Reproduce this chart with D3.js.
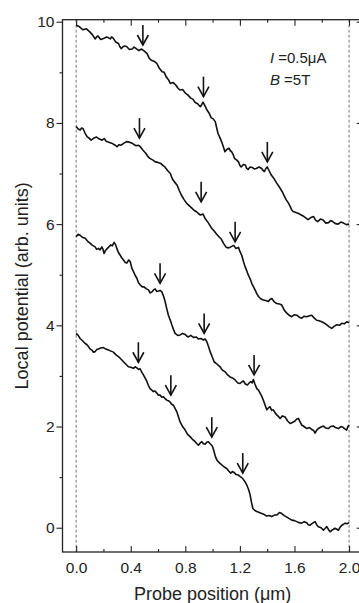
<!DOCTYPE html>
<html>
<head>
<meta charset="utf-8">
<script src="https://cdn.jsdelivr.net/npm/d3@7"></script>
<style>
  body { margin: 0; background: #fff; }
  svg { display: block; font-family: "Liberation Sans", Arial, sans-serif; }
</style>
</head>
<body>
<div id="chart"></div>
<script>
// potential traces, [position (um), potential]
const trace1 = [
  [0.00, 9.93], [0.025, 9.90], [0.05, 9.84], [0.075, 9.86], [0.10, 9.80], [0.12, 9.74], [0.14, 9.66], [0.15, 9.70],
  [0.16, 9.72], [0.18, 9.65], [0.20, 9.67], [0.225, 9.70], [0.25, 9.66], [0.26, 9.70], [0.27, 9.68], [0.29, 9.60],
  [0.31, 9.57], [0.32, 9.51], [0.33, 9.47], [0.35, 9.52], [0.37, 9.51], [0.39, 9.45], [0.41, 9.46], [0.425, 9.50],
  [0.44, 9.47], [0.46, 9.43], [0.48, 9.46], [0.50, 9.42], [0.52, 9.37], [0.535, 9.28], [0.55, 9.24], [0.57, 9.22],
  [0.59, 9.18], [0.61, 9.08], [0.63, 9.01], [0.645, 9.00], [0.66, 8.91], [0.675, 8.86], [0.69, 8.78], [0.71, 8.80],
  [0.73, 8.75], [0.745, 8.69], [0.76, 8.65], [0.78, 8.66], [0.80, 8.59], [0.82, 8.55], [0.84, 8.49], [0.855, 8.47],
  [0.87, 8.41], [0.89, 8.38], [0.91, 8.32], [0.92, 8.36], [0.93, 8.41], [0.945, 8.33], [0.96, 8.25], [0.975, 8.19],
  [0.99, 8.10], [1.005, 8.08], [1.02, 8.02], [1.03, 7.90], [1.04, 7.79], [1.055, 7.70], [1.07, 7.60], [1.08, 7.52],
  [1.09, 7.43], [1.105, 7.48], [1.12, 7.50], [1.13, 7.45], [1.14, 7.43], [1.15, 7.38], [1.16, 7.30], [1.175, 7.27],
  [1.19, 7.23], [1.20, 7.16], [1.21, 7.13], [1.225, 7.18], [1.24, 7.17], [1.25, 7.10], [1.26, 7.08], [1.275, 7.13],
  [1.29, 7.12], [1.305, 7.09], [1.32, 7.10], [1.34, 7.13], [1.36, 7.10], [1.37, 7.06], [1.38, 7.04], [1.39, 7.10],
  [1.40, 7.13], [1.415, 7.05], [1.43, 6.97], [1.45, 6.90], [1.47, 6.81], [1.49, 6.73], [1.51, 6.64], [1.525, 6.56],
  [1.54, 6.48], [1.555, 6.42], [1.57, 6.34], [1.58, 6.28], [1.59, 6.25], [1.61, 6.23], [1.63, 6.21], [1.65, 6.18],
  [1.67, 6.15], [1.685, 6.12], [1.70, 6.09], [1.72, 6.13], [1.74, 6.15], [1.755, 6.08], [1.77, 6.05], [1.79, 6.10],
  [1.81, 6.08], [1.83, 6.02], [1.85, 6.03], [1.865, 6.07], [1.88, 6.05], [1.90, 6.01], [1.92, 6.00], [1.94, 6.04],
  [1.96, 6.02], [1.98, 5.99], [2.00, 6.00]
];
const trace2 = [
  [0.00, 7.93], [0.015, 7.88], [0.03, 7.86], [0.04, 7.90], [0.05, 7.89], [0.065, 7.80], [0.08, 7.73], [0.095, 7.70],
  [0.11, 7.66], [0.13, 7.70], [0.15, 7.72], [0.17, 7.68], [0.19, 7.66], [0.205, 7.69], [0.22, 7.64], [0.24, 7.62],
  [0.26, 7.60], [0.28, 7.57], [0.30, 7.53], [0.315, 7.57], [0.33, 7.56], [0.35, 7.60], [0.37, 7.63], [0.39, 7.62],
  [0.41, 7.60], [0.425, 7.57], [0.44, 7.55], [0.455, 7.56], [0.47, 7.53], [0.49, 7.46], [0.51, 7.40], [0.525, 7.34],
  [0.54, 7.30], [0.56, 7.27], [0.58, 7.23], [0.60, 7.22], [0.62, 7.20], [0.635, 7.16], [0.65, 7.13], [0.67, 7.06],
  [0.69, 7.00], [0.70, 6.93], [0.71, 6.87], [0.725, 6.82], [0.74, 6.77], [0.755, 6.67], [0.77, 6.58], [0.79, 6.49],
  [0.81, 6.41], [0.83, 6.36], [0.85, 6.31], [0.865, 6.27], [0.88, 6.25], [0.895, 6.21], [0.91, 6.18], [0.93, 6.20],
  [0.945, 6.11], [0.97, 6.02], [0.99, 5.93], [1.01, 5.87], [1.03, 5.80], [1.05, 5.74], [1.065, 5.70], [1.08, 5.62],
  [1.10, 5.54], [1.12, 5.53], [1.14, 5.56], [1.155, 5.58], [1.17, 5.52], [1.19, 5.54], [1.20, 5.46], [1.214, 5.38],
  [1.226, 5.26], [1.238, 5.16], [1.25, 5.08], [1.262, 4.99], [1.275, 4.92], [1.287, 4.83], [1.30, 4.76], [1.311, 4.70],
  [1.325, 4.62], [1.336, 4.57], [1.355, 4.52], [1.372, 4.50], [1.39, 4.49], [1.409, 4.47], [1.42, 4.51], [1.434, 4.53],
  [1.45, 4.47], [1.47, 4.43], [1.49, 4.42], [1.507, 4.40], [1.525, 4.30], [1.544, 4.24], [1.56, 4.20], [1.58, 4.17],
  [1.60, 4.21], [1.617, 4.20], [1.635, 4.16], [1.653, 4.14], [1.67, 4.18], [1.69, 4.17], [1.71, 4.19], [1.727, 4.20],
  [1.745, 4.14], [1.763, 4.10], [1.78, 4.09], [1.80, 4.07], [1.82, 4.04], [1.837, 4.01], [1.855, 3.97], [1.873, 3.94],
  [1.89, 3.98], [1.91, 4.01], [1.93, 4.00], [1.946, 4.04], [1.965, 4.03], [1.983, 4.07], [2.00, 4.05]
];
const trace3 = [
  [0.00, 5.75], [0.015, 5.80], [0.029, 5.78], [0.045, 5.74], [0.066, 5.72], [0.085, 5.66], [0.103, 5.62], [0.12, 5.58],
  [0.139, 5.55], [0.15, 5.50], [0.163, 5.52], [0.175, 5.49], [0.188, 5.55], [0.197, 5.50], [0.205, 5.42], [0.215, 5.48],
  [0.229, 5.52], [0.24, 5.55], [0.254, 5.59], [0.265, 5.57], [0.278, 5.64], [0.288, 5.60], [0.298, 5.52], [0.31, 5.44],
  [0.322, 5.39], [0.335, 5.33], [0.347, 5.29], [0.36, 5.24], [0.371, 5.23], [0.385, 5.29], [0.396, 5.26], [0.408, 5.13],
  [0.420, 5.06], [0.432, 4.99], [0.445, 4.93], [0.457, 4.84], [0.469, 4.80], [0.485, 4.76], [0.498, 4.76], [0.515, 4.72],
  [0.530, 4.70], [0.542, 4.64], [0.555, 4.66], [0.567, 4.70], [0.579, 4.72], [0.59, 4.67], [0.603, 4.68], [0.615, 4.69],
  [0.628, 4.66], [0.64, 4.58], [0.652, 4.47], [0.664, 4.33], [0.676, 4.20], [0.69, 4.10], [0.701, 4.01], [0.713, 3.92],
  [0.725, 3.84], [0.745, 3.80], [0.762, 3.81], [0.78, 3.84], [0.799, 3.82], [0.81, 3.79], [0.823, 3.77], [0.84, 3.80],
  [0.859, 3.76], [0.878, 3.77], [0.896, 3.73], [0.915, 3.74], [0.933, 3.71], [0.945, 3.73], [0.957, 3.68], [0.97, 3.58],
  [0.982, 3.48], [0.997, 3.38], [1.011, 3.28], [1.03, 3.24], [1.055, 3.18], [1.07, 3.12], [1.092, 3.08], [1.11, 3.02],
  [1.128, 2.98], [1.145, 2.96], [1.165, 2.92], [1.185, 2.86], [1.201, 2.85], [1.213, 2.88], [1.226, 2.90], [1.24, 2.84],
  [1.255, 2.82], [1.268, 2.86], [1.280, 2.89], [1.29, 2.86], [1.299, 2.93], [1.31, 2.84], [1.324, 2.75], [1.336, 2.72],
  [1.348, 2.66], [1.36, 2.60], [1.372, 2.52], [1.385, 2.42], [1.397, 2.33], [1.41, 2.37], [1.421, 2.39], [1.433, 2.32],
  [1.445, 2.33], [1.458, 2.27], [1.470, 2.23], [1.482, 2.20], [1.495, 2.16], [1.512, 2.21], [1.531, 2.19], [1.55, 2.11],
  [1.568, 2.06], [1.585, 2.08], [1.604, 2.11], [1.617, 2.15], [1.629, 2.16], [1.641, 2.09], [1.653, 2.03], [1.67, 2.00],
  [1.690, 1.96], [1.71, 1.98], [1.727, 1.94], [1.74, 1.92], [1.751, 1.87], [1.763, 1.93], [1.775, 1.96], [1.795, 1.99],
  [1.812, 2.01], [1.83, 1.97], [1.848, 1.96], [1.865, 2.00], [1.885, 2.01], [1.90, 1.98], [1.922, 1.96], [1.94, 2.00],
  [1.958, 1.98], [1.972, 1.95], [1.983, 1.93], [1.99, 1.99], [2.00, 2.03]
];
const trace4 = [
  [0.00, 3.84], [0.015, 3.80], [0.029, 3.74], [0.045, 3.70], [0.066, 3.64], [0.078, 3.62], [0.090, 3.58], [0.10, 3.54],
  [0.115, 3.51], [0.127, 3.47], [0.139, 3.48], [0.15, 3.52], [0.163, 3.53], [0.18, 3.55], [0.200, 3.56], [0.218, 3.53],
  [0.237, 3.51], [0.255, 3.49], [0.273, 3.47], [0.29, 3.42], [0.310, 3.38], [0.33, 3.33], [0.347, 3.28], [0.365, 3.23],
  [0.383, 3.18], [0.40, 3.17], [0.420, 3.15], [0.432, 3.18], [0.445, 3.16], [0.457, 3.13], [0.469, 3.14], [0.48, 3.08],
  [0.493, 3.02], [0.505, 2.96], [0.518, 2.89], [0.53, 2.81], [0.542, 2.75], [0.555, 2.72], [0.566, 2.69], [0.578, 2.70],
  [0.591, 2.66], [0.603, 2.62], [0.615, 2.62], [0.628, 2.58], [0.640, 2.59], [0.652, 2.55], [0.664, 2.52], [0.676, 2.51],
  [0.689, 2.48], [0.70, 2.44], [0.713, 2.42], [0.725, 2.36], [0.738, 2.29], [0.75, 2.19], [0.762, 2.09], [0.78, 2.00],
  [0.799, 1.93], [0.815, 1.85], [0.835, 1.80], [0.855, 1.74], [0.872, 1.70], [0.885, 1.66], [0.896, 1.63], [0.908, 1.67],
  [0.921, 1.70], [0.933, 1.66], [0.945, 1.65], [0.957, 1.69], [0.969, 1.70], [0.982, 1.66], [0.994, 1.63], [1.003, 1.58],
  [1.011, 1.50], [1.02, 1.41], [1.031, 1.34], [1.05, 1.28], [1.067, 1.24], [1.085, 1.20], [1.104, 1.17], [1.118, 1.12],
  [1.133, 1.08], [1.145, 1.11], [1.158, 1.09], [1.173, 1.05], [1.189, 1.04], [1.203, 1.01], [1.218, 0.98], [1.235, 0.92],
  [1.251, 0.84], [1.263, 0.76], [1.275, 0.65], [1.285, 0.50], [1.295, 0.38], [1.31, 0.34], [1.324, 0.32], [1.342, 0.30],
  [1.360, 0.28], [1.378, 0.26], [1.397, 0.23], [1.415, 0.24], [1.434, 0.22], [1.452, 0.25], [1.470, 0.25], [1.49, 0.30],
  [1.507, 0.28], [1.525, 0.24], [1.544, 0.21], [1.562, 0.18], [1.580, 0.15], [1.60, 0.14], [1.617, 0.12], [1.635, 0.10],
  [1.653, 0.09], [1.672, 0.12], [1.690, 0.10], [1.70, 0.06], [1.714, 0.05], [1.733, 0.09], [1.751, 0.12], [1.763, 0.06],
  [1.775, 0.02], [1.795, 0.00], [1.812, -0.05], [1.825, -0.01], [1.837, 0.02], [1.85, -0.04], [1.861, -0.08], [1.88, -0.04],
  [1.897, -0.01], [1.91, -0.03], [1.922, -0.05], [1.935, 0.01], [1.946, 0.05], [1.96, 0.07], [1.971, 0.09], [1.985, 0.08],
  [2.00, 0.10]
];
const traces = [trace1, trace2, trace3, trace4];

// arrow tips marking the steps
const arrowTips = [
  [0.489, 9.54], [0.933, 8.52], [1.401, 7.23],
  [0.464, 7.70], [0.916, 6.44], [1.165, 5.65],
  [0.615, 4.83], [0.938, 3.84], [1.304, 3.02],
  [0.456, 3.27], [0.694, 2.62], [0.994, 1.79], [1.221, 1.08]
];

const xTicks = [0, 0.4, 0.8, 1.2, 1.6, 2.0];
const xMinorTicks = [0.2, 0.6, 1.0, 1.4, 1.8];
const yTicks = [0, 2, 4, 6, 8, 10];
const yMinorTicks = [1, 3, 5, 7, 9];
const guideLines = [0, 2];

function draw () {
  const svgWidth = 359;
  const svgHeight = 603;
  const margin = { top: 19.7, left: 62.5 };
  const width = 300.2;
  const height = 532.3;

  const svg = d3.select('#chart')
    .append('svg')
    .attr('width', svgWidth)
    .attr('height', svgHeight);
  const g = svg.append('g')
    .attr('transform', `translate(${margin.left}, ${margin.top})`);

  const x = d3.scaleLinear().domain([-0.1, 2.1]).range([0, width]);
  const y = d3.scaleLinear().domain([-0.48, 10.04]).range([height, 0]);

  // dashed guides at the contacts
  g.selectAll('.guide')
    .data(guideLines)
    .enter().append('line')
    .attr('x1', d => x(d)).attr('x2', d => x(d))
    .attr('y1', 0).attr('y2', height)
    .attr('stroke', '#777')
    .attr('stroke-width', 1)
    .attr('stroke-dasharray', '3,2');

  // axes: left outward, others inward
  const styleAxis = sel => {
    sel.select('.domain').remove();
    sel.selectAll('.tick line').attr('stroke', '#222').attr('stroke-width', 1.1);
    sel.selectAll('.tick text').attr('fill', '#222').style('font-size', '15.5px');
  };

  g.append('g')
    .call(d3.axisLeft(y).tickValues(yTicks).tickSize(6).tickPadding(2).tickFormat(d3.format('d')))
    .call(styleAxis);
  g.append('g')
    .call(d3.axisLeft(y).tickValues(yMinorTicks).tickSize(3).tickFormat(''))
    .call(styleAxis);

  g.append('g')
    .attr('transform', `translate(0, ${height})`)
    .call(d3.axisBottom(x).tickValues(xTicks).tickSize(-6).tickPadding(10).tickFormat(d3.format('.1f')))
    .call(styleAxis);
  g.append('g')
    .attr('transform', `translate(0, ${height})`)
    .call(d3.axisBottom(x).tickValues(xMinorTicks).tickSize(-3).tickFormat(''))
    .call(styleAxis);

  g.append('g')
    .call(d3.axisTop(x).tickValues(xTicks).tickSize(-6).tickFormat(''))
    .call(styleAxis);
  g.append('g')
    .call(d3.axisTop(x).tickValues(xMinorTicks).tickSize(-3).tickFormat(''))
    .call(styleAxis);

  g.append('g')
    .attr('transform', `translate(${width}, 0)`)
    .call(d3.axisRight(y).tickValues(yTicks).tickSize(-6).tickFormat(''))
    .call(styleAxis);
  g.append('g')
    .attr('transform', `translate(${width}, 0)`)
    .call(d3.axisRight(y).tickValues(yMinorTicks).tickSize(-3).tickFormat(''))
    .call(styleAxis);

  g.append('rect')
    .attr('width', width)
    .attr('height', height)
    .attr('fill', 'none')
    .attr('stroke', '#222')
    .attr('stroke-width', 1.3);

  // traces
  const line = d3.line()
    .x(d => x(d[0]))
    .y(d => y(d[1]));

  g.selectAll('.trace')
    .data(traces)
    .enter().append('path')
    .attr('fill', 'none')
    .attr('stroke', '#111')
    .attr('stroke-width', 1.6)
    .attr('stroke-linejoin', 'round')
    .attr('d', line);

  // arrows
  const arrow = g.selectAll('.arrow')
    .data(arrowTips)
    .enter().append('g')
    .attr('transform', d => `translate(${x(d[0])}, ${y(d[1])})`);
  arrow.append('line')
    .attr('x1', 0).attr('x2', 0)
    .attr('y1', 0).attr('y2', -20);
  arrow.append('path')
    .attr('d', 'M-5.5,-10 L0,0 L5.5,-10')
    .attr('fill', 'none');
  arrow.selectAll('line, path')
    .attr('stroke', '#111')
    .attr('stroke-width', 1.6);

  // annotation
  const note1 = g.append('text')
    .attr('x', x(1.42)).attr('y', y(9.18))
    .attr('fill', '#222')
    .style('font-size', '15px');
  note1.append('tspan').style('font-style', 'italic').text('I');
  note1.append('tspan').text(' =0.5μA');
  const note2 = g.append('text')
    .attr('x', x(1.42)).attr('y', y(8.75))
    .attr('fill', '#222')
    .style('font-size', '15px');
  note2.append('tspan').style('font-style', 'italic').text('B');
  note2.append('tspan').text(' =5T');

  // axis titles
  g.append('text')
    .attr('x', width / 2)
    .attr('y', 600 - margin.top)
    .attr('text-anchor', 'middle')
    .attr('fill', '#222')
    .style('font-size', '18px')
    .text('Probe position (μm)');

  g.append('text')
    .attr('transform', 'rotate(-90)')
    .attr('x', -height / 2)
    .attr('y', 28 - margin.left)
    .attr('text-anchor', 'middle')
    .attr('fill', '#222')
    .style('font-size', '18px')
    .text('Local potential (arb. units)');
}
draw();
</script>
</body>
</html>
